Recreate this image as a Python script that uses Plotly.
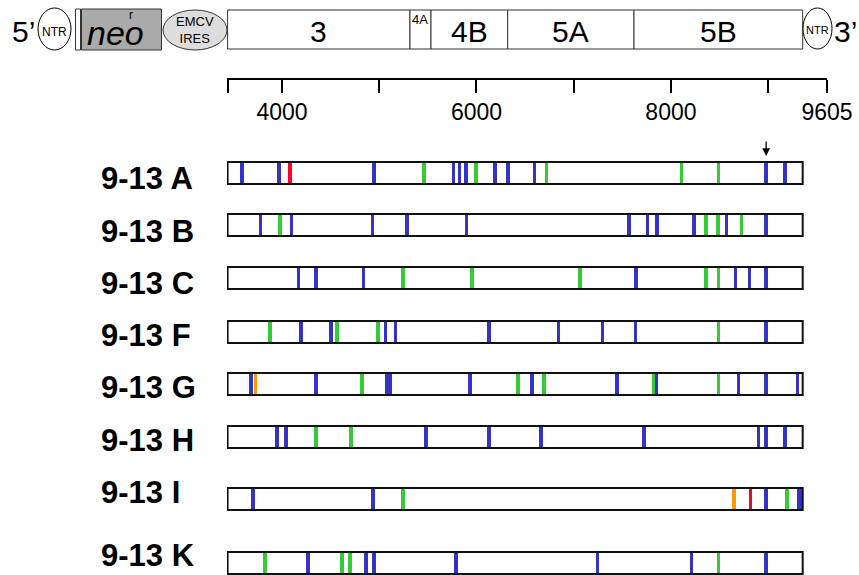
import plotly.graph_objects as go

W, H = 859, 575

# ---- data ----
axis_start, axis_end = 3434, 9605
tick_vals = [3440, 4000, 5000, 6000, 7000, 8000, 9000, 9605]
tick_text = ["", "4000", "", "6000", "", "8000", "", "9605"]

genes = ["3", "4A", "4B", "5A", "5B"]
gene_bounds = [3440, 5316, 5532, 6321, 7620, 9355]
box_start, box_end = 3440, 9355

clones = ["9-13 A", "9-13 B", "9-13 C", "9-13 F", "9-13 G", "9-13 H", "9-13 I", "9-13 K"]

# mutation positions (nt) and type per clone: b=blue, g=green, r=red, o=orange
mut_A = [3589, 3969, 4082, 4947, 5461, 5762, 5828, 5893, 5996, 6191, 6325, 6596, 6723, 8105, 8486, 8979, 9174]
typ_A = ["b", "b", "r", "b", "g", "b", "b", "b", "g", "b", "b", "b", "g", "g", "g", "b", "b"]
mut_B = [3781, 3979, 4100, 4933, 5286, 5900, 7567, 7762, 7855, 8236, 8359, 8483, 8571, 8725, 8979]
typ_B = ["b", "g", "b", "b", "b", "b", "b", "b", "b", "b", "g", "g", "b", "g", "b"]
mut_C = [4168, 4350, 4836, 5245, 5955, 7066, 7642, 8362, 8486, 8661, 8805, 8979]
typ_C = ["b", "b", "b", "g", "g", "g", "b", "g", "g", "b", "b", "b"]
mut_F = [3877, 4195, 4504, 4566, 4988, 5067, 5170, 6130, 6840, 7299, 7632, 8486, 8979]
typ_F = ["g", "b", "b", "g", "g", "b", "b", "b", "b", "b", "b", "g", "b"]
mut_G = [3681, 3729, 4350, 4823, 5078, 5110, 5934, 6428, 6572, 6695, 7446, 7817, 7848, 8486, 8692, 8979, 9298]
typ_G = ["b", "o", "b", "g", "b", "b", "b", "g", "b", "g", "b", "g", "b", "g", "b", "b", "b"]
mut_H = [3949, 4041, 4350, 4710, 5481, 6130, 6665, 7724, 8897, 8979, 9174]
typ_H = ["b", "b", "g", "g", "b", "b", "b", "b", "b", "b", "b"]
mut_I = [3702, 4936, 5245, 8650, 8815, 8979, 9195, 9310, 9340]
typ_I = ["b", "b", "g", "o", "r", "b", "g", "b", "b"]
mut_K = [3825, 4267, 4617, 4700, 4864, 4947, 5790, 7241, 8214, 8486, 8979]
typ_K = ["g", "b", "g", "g", "b", "b", "b", "b", "b", "g", "b"]

arrow_pos = 8979

muts = [mut_A, mut_B, mut_C, mut_F, mut_G, mut_H, mut_I, mut_K]
typs = [typ_A, typ_B, typ_C, typ_F, typ_G, typ_H, typ_I, typ_K]

# ---- layout geometry (pixels) ----
row_top = [162, 214, 267, 321, 373, 426, 488, 552]
row_h = 22
label_y = [178, 231, 283, 335, 387, 440, 492, 555]

colors = {"b": "#3333CC", "g": "#33CC33", "r": "#FF0033", "o": "#FF9900"}
names = {"b": "blue", "g": "green", "r": "red", "o": "orange"}
FONT = "Liberation Sans, Arial, Helvetica, sans-serif"

fig = go.Figure()

for k in ["b", "g", "r", "o"]:
    xs, bases = [], []
    for m, t, top in zip(muts, typs, row_top):
        for p, tt in zip(m, t):
            if tt == k:
                xs.append(p)
                bases.append(top)
    fig.add_trace(go.Bar(x=xs, y=[row_h] * len(xs), base=bases, width=34,
                         marker=dict(color=colors[k], line=dict(width=0)),
                         name=names[k], showlegend=False, hoverinfo="x"))

shapes = []
annotations = []


def px(x):
    return x / W


def py(y):
    return 1 - y / H


def text(t, x, y, size, **kw):
    d = dict(text=t, xref="paper", yref="paper", x=px(x), y=py(y), xanchor="center",
             yanchor="middle", showarrow=False, font=dict(family=FONT, size=size, color="black"))
    d.update(kw)
    annotations.append(d)


# row boxes
for top in row_top:
    shapes.append(dict(type="rect", xref="x", yref="y", x0=box_start, x1=box_end,
                       y0=top, y1=top + row_h, line=dict(color="#111111", width=2),
                       fillcolor="rgba(0,0,0,0)", layer="above"))

# row labels (left aligned)
for name, ly in zip(clones, label_y):
    text("<b>" + name + "</b>", 99, ly, 31, xanchor="left")

# gene map boxes
g_top, g_bot = 10, 49
for i, g in enumerate(genes):
    shapes.append(dict(type="rect", xref="x", yref="y", x0=gene_bounds[i], x1=gene_bounds[i + 1],
                       y0=g_top, y1=g_bot, line=dict(color="#333333", width=1), fillcolor="white",
                       layer="below"))
    cx = (gene_bounds[i] + gene_bounds[i + 1]) / 2
    if g == "4A":
        annotations.append(dict(text=g, xref="x", yref="y", x=cx, y=19, xanchor="center",
                                yanchor="middle", showarrow=False,
                                font=dict(family=FONT, size=13, color="black")))
    else:
        annotations.append(dict(text=g, xref="x", yref="y", x=cx, y=31, xanchor="center",
                                yanchor="middle", showarrow=False,
                                font=dict(family=FONT, size=30, color="black")))

# 5' NTR circle
shapes.append(dict(type="circle", xref="paper", yref="paper", x0=px(38), x1=px(71),
                   y0=py(50), y1=py(8), line=dict(color="black", width=1), fillcolor="white"))
text("NTR", 54.5, 32, 12)
text("5’", 23, 31, 30)
# neo box
shapes.append(dict(type="rect", xref="paper", yref="paper", x0=px(75.5), x1=px(80.5),
                   y0=py(50), y1=py(9), line=dict(color="#333333", width=1), fillcolor="white"))
shapes.append(dict(type="rect", xref="paper", yref="paper", x0=px(81.5), x1=px(161.5),
                   y0=py(50), y1=py(9), line=dict(color="#333333", width=1), fillcolor="#AAAAAA"))
text("<i>neo</i>", 115, 33, 34)
text("r", 131, 15, 12)
# EMCV IRES ellipse
shapes.append(dict(type="circle", xref="paper", yref="paper", x0=px(163), x1=px(227),
                   y0=py(50), y1=py(10), line=dict(color="#333333", width=1), fillcolor="#DDDDDD"))
text("EMCV<br>IRES", 195, 30, 13)
# 3' NTR circle
shapes.append(dict(type="circle", xref="paper", yref="paper", x0=px(803), x1=px(832),
                   y0=py(49), y1=py(8), line=dict(color="black", width=1), fillcolor="white"))
text("NTR", 817.5, 30, 11)
text("3’", 845, 31, 30)

# arrow
annotations.append(dict(text="", xref="x", yref="y", x=arrow_pos, y=156, ax=0, ay=-16,
                        showarrow=True, arrowhead=2, arrowsize=1.2, arrowwidth=1.3,
                        arrowcolor="black"))

fig.update_layout(
    width=W, height=H, margin=dict(l=0, r=0, t=0, b=0, autoexpand=False),
    plot_bgcolor="white", paper_bgcolor="white",
    barmode="overlay", bargap=0,
    shapes=shapes, annotations=annotations,
    xaxis=dict(domain=[227 / W, 827 / W], range=[axis_start, axis_end],
               anchor="free", position=1 - 79 / H, side="bottom",
               showline=True, linecolor="black", linewidth=1.5,
               ticks="outside", ticklen=13, tickwidth=1.5, tickcolor="black",
               tickvals=tick_vals, ticktext=tick_text, showgrid=False, zeroline=False,
               automargin=False,
               tickfont=dict(family=FONT, size=23, color="black")),
    yaxis=dict(range=[H, 0], domain=[0, 1], visible=False, showgrid=False, zeroline=False),
)

fig.write_html("out.html", config={"displayModeBar": False},
               post_script="document.body.style.margin='0';document.body.style.overflow='hidden';")
